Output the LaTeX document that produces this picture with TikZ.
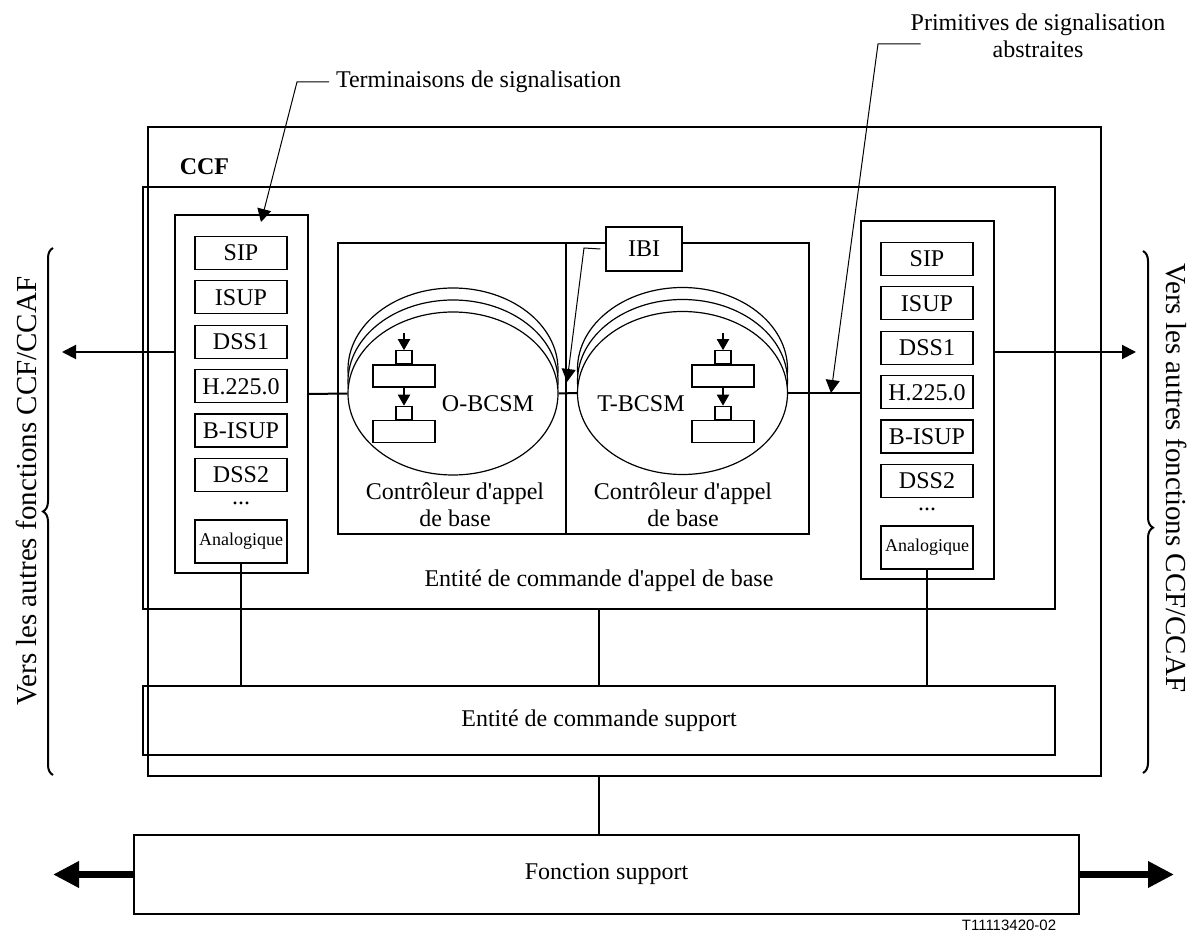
\documentclass[tikz,border=0pt]{standalone}
\usepackage{fontspec}
\setmainfont{Liberation Serif}
\newfontfamily\refnofont{Liberation Sans}
\usetikzlibrary{arrows.meta,positioning,shapes.geometric,decorations.pathreplacing}
\tikzstyle{txt}=[
	font=\fontsize{12}{13.5}\selectfont,
	align=center
]
\tikzstyle{ccfbox}=[
	rectangle,
	draw,
	line width=0.6pt,
	inner sep=0pt
]
\tikzstyle{termbox}=[
	ccfbox,
	minimum width=66.5pt,
	minimum height=179pt
]
\tikzstyle{protobox}=[
	ccfbox,
	txt,
	minimum width=46pt,
	minimum height=16.5pt,
	node distance=5.1pt
]
\tikzstyle{bcsm}=[
	ellipse,
	draw,
	line width=0.6pt,
	fill=white,
	minimum width=105pt,
	minimum height=81.5pt,
	inner sep=0pt
]
\tikzstyle{stbig}=[ccfbox, fill=white, minimum width=31pt, minimum height=11pt]
\tikzstyle{stsmall}=[ccfbox, fill=white, minimum width=8pt, minimum height=6.5pt]
\tikzstyle{flow}=[-{Triangle[length=5.5pt,width=6pt]}, line width=1pt]
\tikzstyle{wire}=[line width=1pt]
\tikzstyle{sidearrow}=[-{Triangle[length=7pt,width=7pt]}, line width=1pt]
\tikzstyle{bigarrow}=[-{Triangle[length=13pt,width=12.5pt]}, line width=3.3pt]
\tikzstyle{callout}=[-{Triangle[length=6.5pt,width=7pt]}, line width=0.5pt]
\tikzstyle{sidebrace}=[decorate, decoration={brace, amplitude=5pt}, line width=1pt]
\tikzstyle{sidetext}=[font=\fontsize{14.5}{16}\selectfont, inner sep=0pt]
\newcommand{\apos}{\textquotesingle}

\begin{document}
\begin{tikzpicture}[x=0.5pt,y=-0.5pt]
\useasboundingbox (0,0) rectangle (1190,935);

% CCF and its two entities
\node [ccfbox, minimum width=476.5pt, minimum height=324.5pt] (ccf) at (624.5,451.5) {};
\node [txt, font=\fontsize{12}{13.5}\selectfont\bfseries] (ccflabel) at (204.5,167) {CCF};
\node [ccfbox, minimum width=456pt, minimum height=211pt] (bcce) at (599,398) {};
\node [txt] (bccelabel) at (599,581) {Entité de commande d\apos appel de base};
\node [ccfbox, txt, minimum width=456pt, minimum height=34.5pt] (supp) at (599,720.5) {Entité de commande support};
\node [ccfbox, txt, minimum width=472.5pt, minimum height=39.5pt] (fsupp) at (606.5,874.5) {Fonction support};

% call controllers
\node [ccfbox, minimum width=114pt, minimum height=145.5pt] (oarea) at (452,388.5) {};
\node [ccfbox, minimum width=121.5pt, minimum height=145.5pt] (tarea) at (687.5,388.5) {};
\node [bcsm] (oback2) at (453,369.5) {};
\node [bcsm] (oback1) at (453,381.5) {};
\node [bcsm] (obcsm) at (453,393.5) {};
\node [bcsm] (tback2) at (682.5,369) {};
\node [bcsm] (tback1) at (682.5,381) {};
\node [bcsm] (tbcsm) at (682.5,393) {};
\node [txt] (oname) at (488,403.5) {O-BCSM};
\node [txt] (tname) at (641,403.5) {T-BCSM};
\node [txt] (octrl) at (455,505) {Contrôleur d\apos appel\\de base};
\node [txt] (tctrl) at (683,505) {Contrôleur d\apos appel\\de base};
\node [ccfbox, txt, fill=white, minimum width=38pt, minimum height=22pt] (ibi) at (644,249) {IBI};

% state icons
\node [stbig] (ost1) at (404,376) {};
\node [stsmall, above=0pt of ost1] (ost1in) {};
\node [stbig] (ost2) at (404,431.5) {};
\node [stsmall, above=0pt of ost2] (ost2in) {};
\coordinate [above=8.5pt of ost1in] (ostart);
\draw [flow] (ostart) -- (ost1in);
\draw [flow] (ost1) -- (ost2in);
\node [stbig] (tst1) at (723,376) {};
\node [stsmall, above=0pt of tst1] (tst1in) {};
\node [stbig] (tst2) at (723,431.5) {};
\node [stsmall, above=0pt of tst2] (tst2in) {};
\coordinate [above=8.5pt of tst1in] (tstart);
\draw [flow] (tstart) -- (tst1in);
\draw [flow] (tst1) -- (tst2in);

% signalling terminations
\node [termbox] (lterm) at (241.5,394) {};
\node [protobox] (lsip) at (241,253) {SIP};
\node [protobox, below=of lsip] (lisup) {ISUP};
\node [protobox, below=of lisup] (ldssa) {DSS1};
\node [protobox, below=of ldssa] (lh) {H.225.0};
\node [protobox, below=of lh] (lbisup) {B-ISUP};
\node [protobox, below=of lbisup] (ldssb) {DSS2};
\node [txt, anchor=base, inner sep=0pt] (ldots) at (241,505) {...};
\node [protobox, minimum height=21.5pt, font=\fontsize{9}{10}\selectfont] (lana) at (241,541.5) {Analogique};

\node [termbox] (rterm) at (927.5,400) {};
\node [protobox] (rsip) at (927,259) {SIP};
\node [protobox, below=of rsip] (risup) {ISUP};
\node [protobox, below=of risup] (rdssa) {DSS1};
\node [protobox, below=of rdssa] (rh) {H.225.0};
\node [protobox, below=of rh] (rbisup) {B-ISUP};
\node [protobox, below=of rbisup] (rdssb) {DSS2};
\node [txt, anchor=base, inner sep=0pt] (rdots) at (927,511) {...};
\node [protobox, minimum height=21.5pt, font=\fontsize{9}{10}\selectfont] (rana) at (927,547.5) {Analogique};

% links
\draw [wire] (lterm.east) -- (obcsm.west);
\draw [wire] (obcsm.east) -- (tbcsm.west);
\draw [wire] (tbcsm.east) -- (tbcsm.east -| rterm.west);
\draw [wire] (lana.south) -- (lana.south |- supp.north);
\draw [wire] (rana.south) -- (rana.south |- supp.north);
\draw [wire] (bcce.south) -- (supp.north);
\draw [wire] (supp.south |- ccf.south) -- (supp.south |- fsupp.north);

\coordinate (lout) at (62,352);
\coordinate (rout) at (1136,352);
\draw [sidearrow] (lterm.west |- lout) -- (lout);
\draw [sidearrow] (rterm.east |- rout) -- (rout);
\coordinate (fl) at (53,874.5);
\coordinate (fr) at (1174,874.5);
\draw [bigarrow] (fsupp.west) -- (fl);
\draw [bigarrow] (fsupp.east) -- (fr);

% callouts
\node [txt, anchor=west] (termtxt) at (329,82) {Terminaisons de signalisation};
\coordinate (termbend) at (297,82);
\coordinate (termtip) at (261,222);
\draw [callout] (termtxt.west) -- (termbend) -- (termtip);
\node [txt] (primtxt) at (1038,36) {Primitives de signalisation\\abstraites};
\coordinate (primbend) at (878,44);
\coordinate (primtip) at (831,393);
\draw [callout] ([xshift=8.5pt,yshift=-4pt]primtxt.west) -- (primbend) -- (primtip);
\coordinate (ibibend) at (584,248);
\coordinate (ibitip) at (567,382);
\draw [callout] ([xshift=-2.5pt]ibi.west) -- (ibibend) -- (ibitip);

% other CCF/CCAF
\draw [sidebrace] (53,775) -- (53,248);
\draw [sidebrace, decoration={brace, amplitude=5pt, aspect=0.53}] (1143,251) -- (1143,773);
\node [sidetext, rotate=90] (lside) at (27,491) {Vers les autres fonctions CCF/CCAF};
\node [sidetext, rotate=-90] (rside) at (1176,478) {Vers les autres fonctions CCF/CCAF};

\node [font=\refnofont\fontsize{7.5}{9}\selectfont] (refno) at (1009,925) {T11113420-02};
\end{tikzpicture}
\end{document}
